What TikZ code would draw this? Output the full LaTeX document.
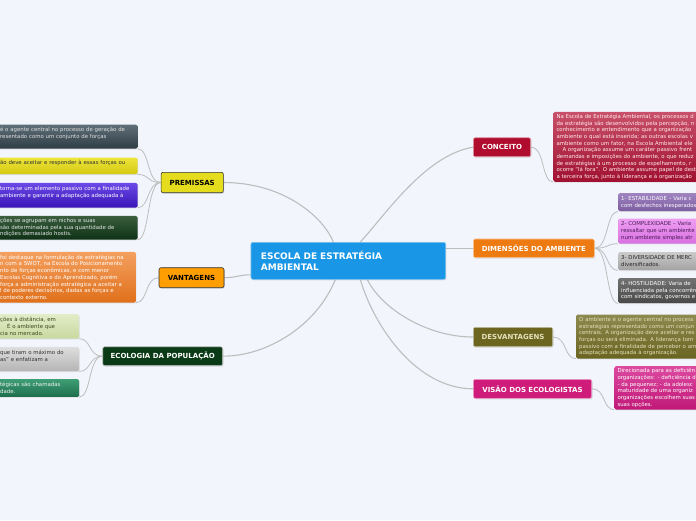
\documentclass[tikz,border=0pt]{standalone}
\usepackage{fontspec}
\setmainfont{DejaVu Sans}
\usetikzlibrary{shadows,backgrounds}

\definecolor{bgcol}{HTML}{F2F5FC}
\definecolor{linkgray}{HTML}{BDBDBD}
\definecolor{centblue}{HTML}{1A96E6}
\definecolor{concred}{HTML}{B00C2E}
\definecolor{dimorange}{HTML}{EE7A12}
\definecolor{desvolive}{HTML}{6B651F}
\definecolor{desvtext}{HTML}{E4E0BC}
\definecolor{visaopink}{HTML}{CF1B7A}
\definecolor{premyellow}{HTML}{E6DC1E}
\definecolor{vantorange}{HTML}{FF9E00}
\definecolor{ecogreen}{HTML}{0B3A17}
% leaf gradients
\definecolor{slatetop}{HTML}{5F6E78}\definecolor{slatebot}{HTML}{2F3D45}
\definecolor{yeltop}{HTML}{EDE53A}\definecolor{yelbot}{HTML}{D4C810}
\definecolor{purtop}{HTML}{6A4AE6}\definecolor{purbot}{HTML}{3A14B8}
\definecolor{dgrtop}{HTML}{3A5E3E}\definecolor{dgrbot}{HTML}{0E3116}
\definecolor{ortop}{HTML}{F4A060}\definecolor{orbot}{HTML}{E0701A}
\definecolor{lgrtop}{HTML}{E2ECC8}\definecolor{lgrbot}{HTML}{C8D9A0}
\definecolor{lgrtext}{HTML}{3A4A20}
\definecolor{lgytop}{HTML}{DEDEDE}\definecolor{lgybot}{HTML}{B4B4B4}
\definecolor{teatop}{HTML}{3E9E74}\definecolor{teabot}{HTML}{1E6E4C}
\definecolor{crtop}{HTML}{C8506A}\definecolor{crbot}{HTML}{A01030}
\definecolor{vitop}{HTML}{A084C0}\definecolor{vibot}{HTML}{7C5CA0}
\definecolor{pktop}{HTML}{EE9EF2}\definecolor{pkbot}{HTML}{D870E0}
\definecolor{pktext}{HTML}{4A1A5A}
\definecolor{gytop}{HTML}{CACACA}\definecolor{gybot}{HTML}{A2A2A2}
\definecolor{dgytop}{HTML}{727272}\definecolor{dgybot}{HTML}{484848}
\definecolor{oltop}{HTML}{8E8A50}\definecolor{olbot}{HTML}{6A6420}
\definecolor{mgtop}{HTML}{DC4AA0}\definecolor{mgbot}{HTML}{C01878}

\begin{document}
\begin{tikzpicture}[x=1pt, y=-1pt,
  topic/.style={rounded corners=2pt, inner sep=0pt, line width=.6pt, align=center,
    font=\fontsize{7}{8}\selectfont\bfseries,
    drop shadow={shadow xshift=.8pt, shadow yshift=-1pt, opacity=.25}},
  leaf/.style={rounded corners=1.5pt, inner xsep=3pt, inner ysep=0pt, align=left,
    font=\fontsize{5.4}{6.7}\selectfont,
    drop shadow={shadow xshift=.6pt, shadow yshift=-.8pt, opacity=.2}},
  lleaf/.style={leaf, anchor=north east, text width=134.4pt},
  rleaf/.style={leaf, anchor=north west, text width=170pt},
  grad/.style 2 args={top color=#1, bottom color=#2},
  link/.style={draw=linkgray, line width=1.1pt},
  sublink/.style={draw=linkgray, line width=.8pt}]
\useasboundingbox (0,0) rectangle (696,520);

\node[topic, fill=centblue, draw=centblue!60!white, text=white, align=left, text width=174.7pt,
  inner xsep=10pt, minimum height=37pt, font=\fontsize{9}{11}\selectfont\bfseries]
  (cen) at (348.3,260.8) {ESCOLA DE ESTRATÉGIA\\AMBIENTAL};

\node[topic, fill=concred, draw=concred!40!white, text=white, minimum width=57.4pt, minimum height=19pt]
  (conc) at (502,147.2) {CONCEITO};
\node[topic, fill=dimorange, draw=dimorange!40!white, text=white, minimum width=121pt, minimum height=18.7pt]
  (dim) at (533.8,248.3) {DIMENSÕES DO AMBIENTE};
\node[topic, fill=desvolive, draw=desvolive!40!white, text=desvtext, minimum width=79.4pt, minimum height=19.4pt]
  (desv) at (513,337) {DESVANTAGENS};
\node[topic, fill=visaopink, draw=visaopink!40!white, text=white, minimum width=118.4pt, minimum height=19pt]
  (visao) at (532.5,388.8) {VISÃO DOS ECOLOGISTAS};
\node[topic, fill=premyellow, draw=black!80, text=black, minimum width=62.3pt, minimum height=20.4pt]
  (prem) at (192.2,182.5) {PREMISSAS};
\node[topic, fill=vantorange, draw=black!80, text=black, minimum width=65pt, minimum height=20pt]
  (vant) at (191.5,277.7) {VANTAGENS};
\node[topic, fill=ecogreen, draw=black!20, text=white, minimum width=120pt, minimum height=19pt]
  (eco) at (162.7,356.2) {ECOLOGIA DA POPULAÇÃO};

\node[lleaf, grad={slatetop}{slatebot}, text=black!12, minimum height=24pt] (p1) at (137.7,124.3)
  {é o agente central no processo de geração de\\resentado como um conjunto de forças\\\mbox{}};
\node[lleaf, grad={yeltop}{yelbot}, text=black!80, minimum height=16.7pt] (p2) at (137.7,157.3)
  {ão deve aceitar e responder à essas forças ou\\\mbox{}};
\node[lleaf, grad={purtop}{purbot}, text=white, minimum height=24.6pt] (p3) at (137.7,182.7)
  {torna-se um elemento passivo com a finalidade\\ambiente e garantir a adaptação adequada à\\\mbox{}};
\node[lleaf, grad={dgrtop}{dgrbot}, text=black!10, minimum height=23.6pt] (p4) at (137.7,215.7)
  {ções se agrupam em nichos e suas\\são determinadas pela sua quantidade de\\ndições demasiado hostis.};

\node[lleaf, text width=132.7pt, grad={ortop}{orbot}, text=white, minimum height=50.6pt] (v1) at (136,251.7)
  {foi destaque na formulação de estratégias na\\n com a SWOT, na Escola do Posicionamento\\nto de forças econômicas, e com menor\\Escolas Cognitiva e do Aprendizado, porém\\força a administração estratégica a aceitar a\\l de poderes decisórios, dadas as forças e\\contexto externo.};

\node[lleaf, text width=76pt, grad={lgrtop}{lgrbot}, text=lgrtext, minimum height=24.3pt] (e1) at (79.3,314)
  {ções à distância, em\\\hspace*{7pt}É o ambiente que\\cia no mercado.};
\node[lleaf, text width=76pt, grad={lgytop}{lgybot}, text=black!80, minimum height=24.3pt] (e2) at (79.3,346.7)
  {que tiram o máximo do\\as" e enfatizam a\\\mbox{}};
\node[lleaf, text width=76pt, grad={teatop}{teabot}, text=black!5, minimum height=17.7pt] (e3) at (79.3,379)
  {tégicas são chamadas\\dade.};

\node[rleaf, grad={crtop}{crbot}, text=red!8, minimum height=70pt] (c1) at (553.3,111.7)
  {Na Escola de Estratégia Ambiental, os processos d\\da estratégia são desenvolvidos pela percepção, n\\conhecimento e entendimento que a organização\\ambiente o qual está inserida; as outras escolas v\\ambiente como um fator, na Escola Ambiental ele\\\hspace*{6pt}A organização assume um caráter passivo frent\\demandas e imposições do ambiente, o que reduz\\de estratégias à um processo de espelhamento, r\\ocorre “lá fora”. O ambiente assume papel de dest\\a terceira força, junto à liderança e à organização};

\node[rleaf, grad={vitop}{vibot}, text=white, minimum height=18pt] (d1) at (618,193)
  {1- ESTABILIDADE – Varia c\\com desfechos inesperados};
\node[rleaf, grad={pktop}{pkbot}, text=pktext, minimum height=25pt] (d2) at (618,218.3)
  {2- COMPLEXIDADE – Varia\\ressaltar que um ambiente\\num ambiente simples atr};
\node[rleaf, grad={gytop}{gybot}, text=black!85, minimum height=18pt] (d3) at (618,252)
  {3- DIVERSIDADE DE MERC\\diversificados.};
\node[rleaf, grad={dgytop}{dgybot}, text=white, minimum height=25pt] (d4) at (618,278)
  {4- HOSTILIDADE: Varia de\\influenciada pela concorrên\\com sindicatos, governos e};

\node[rleaf, grad={oltop}{olbot}, text=desvtext, minimum height=44pt] (s1) at (576,314.3)
  {O ambiente é o agente central no process\\estratégias representado como um conjun\\centrais. A organização deve aceitar e res\\forças ou será eliminada. A liderança torn\\passivo com a finalidade de perceber o am\\adaptação adequada à organização.};

\node[rleaf, grad={mgtop}{mgbot}, text=white, minimum height=43.3pt] (w1) at (614.3,366)
  {Direcionada para as deficiên\\organizações: - deficiência d\\- da pequenez; - da adolesc\\maturidade de uma organiz\\organizações escolhem suas\\suas opções.};

\begin{scope}[on background layer]
\fill[bgcol] (0,0) rectangle (696,520);
\draw[link] (prem.east) .. controls +(60,0) and +(-10,-25) .. ([xshift=-15pt]cen.north);
\draw[link] ([xshift=12pt]cen.north) .. controls +(25,-27) and +(-48,8) .. (conc.west);
\draw[link] (vant.east) .. controls +(12,0) and +(-12,0) .. ([yshift=-14pt]cen.west);
\draw[link] ([xshift=-13pt]cen.south) .. controls +(-18,45) and +(45,0) .. (eco.east);
\draw[link] ([yshift=12.5pt]cen.east) -- (dim.west);
\draw[link] ([xshift=19pt]cen.south) .. controls +(15,30) and +(-45,0) .. (desv.west);
\draw[link] ([xshift=12pt]cen.south) .. controls +(15,50) and +(-55,0) .. (visao.west);

\foreach \c in {p1,p2,p3,p4}
  \draw[sublink] (prem.west) .. controls +(-14,0) and +(12,0) .. (\c.south east);
\draw[sublink] (vant.west) .. controls +(-14,0) and +(12,0) .. (v1.south east);
\foreach \c in {e1,e2,e3}
  \draw[sublink] (eco.west) .. controls +(-14,0) and +(12,0) .. (\c.south east);
\draw[sublink] (conc.east) .. controls +(14,0) and +(-12,0) .. (c1.south west);
\foreach \c in {d1,d2,d3,d4}
  \draw[sublink] (dim.east) .. controls +(14,0) and +(-12,0) .. (\c.south west);
\draw[sublink] (desv.east) .. controls +(14,0) and +(-12,0) .. (s1.south west);
\draw[sublink] (visao.east) .. controls +(14,0) and +(-12,0) .. (w1.south west);
\end{scope}
\end{tikzpicture}
\end{document}
